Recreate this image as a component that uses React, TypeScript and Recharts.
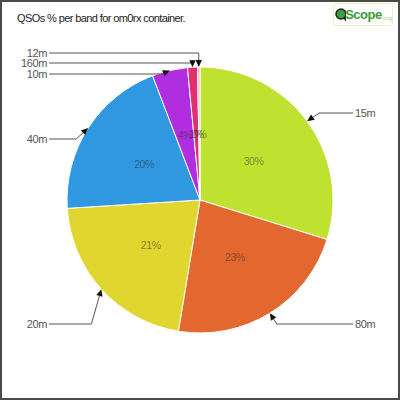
import React from 'react';
import { PieChart, Pie, Cell } from 'recharts';

const bands = ['15m', '80m', '20m', '40m', '10m', '160m', '12m'];
const shares = [29.8, 22.8, 21.4, 20.2, 4.3, 1.2, 0.3];
const bandColors = ['#bee22f', '#e2682f', '#e0d62f', '#3098e0', '#b02ee0', '#e0306e', '#f2b6cc'];
const titleText = 'QSOs % per band for om0rx container.';

const data = bands.map((b, i) => ({ name: b, value: shares[i] }));

const RAD = Math.PI / 180;
const LINE = '#555';
const FONT = '"Liberation Sans", sans-serif';

// label layout (offsets relative to centre / arrow tip)
const LAYOUT: Record<string, { dy: number; ex: number }> = {
  '15m': { dy: -87, ex: 12 },
  '80m': { dy: 124, ex: 7 },
  '20m': { dy: 124, ex: -10 },
  '40m': { dy: -61, ex: -12 },
  '10m': { dy: -126, ex: -8 },
  '160m': { dy: -137, ex: 0 },
  '12m': { dy: -147, ex: 0 },
};

function renderLabel(props: any) {
  const { cx, cy, midAngle, outerRadius, percent, name } = props;
  const c = Math.cos(-midAngle * RAD);
  const s = Math.sin(-midAngle * RAD);
  const tipX = cx + outerRadius * c;
  const tipY = cy + outerRadius * s;
  const ix = cx + outerRadius * 0.5 * c;
  const iy = cy + outerRadius * 0.5 * s;
  const lay = LAYOUT[name] || { dy: 0, ex: 0 };
  const right = tipX > cx;
  const ly = cy + lay.dy;
  const ex = tipX + lay.ex;
  const tx = right ? cx + 155 : cx - 153;
  const lineStart = right ? tx - 2 : tx + 2;
  const ddx = tipX - ex;
  const ddy = tipY - ly;
  const len = Math.sqrt(ddx * ddx + ddy * ddy) || 1;
  const ux = ddx / len;
  const uy = ddy / len;
  const hl = 7;
  const hw = 3.2;
  const bx = tipX - ux * hl;
  const by = tipY - uy * hl;
  const p1 = `${tipX},${tipY}`;
  const p2 = `${bx - uy * hw},${by + ux * hw}`;
  const p3 = `${bx + uy * hw},${by - ux * hw}`;
  return (
    <g>
      <text
        x={ix}
        y={iy}
        textAnchor="middle"
        dominantBaseline="central"
        fontFamily={FONT}
        fontSize={10.5}
        letterSpacing={-0.4}
        fill="rgba(40,40,40,0.5)"
      >
        {`${Math.round(percent * 100)}%`}
      </text>
      <polyline
        points={`${lineStart},${ly} ${ex},${ly} ${bx},${by}`}
        fill="none"
        stroke={LINE}
        strokeWidth={1}
      />
      <polygon points={`${p1} ${p2} ${p3}`} fill="#111" />
      <text
        x={tx}
        y={ly}
        textAnchor={right ? 'start' : 'end'}
        dominantBaseline="central"
        fontFamily={FONT}
        fontSize={11}
        letterSpacing={-0.4}
        fill="#555"
      >
        {name}
      </text>
    </g>
  );
}

export default function App() {
  return (
    <div
      style={{
        position: 'fixed',
        left: 0,
        top: 0,
        width: 400,
        height: 400,
        background: '#fff',
        boxSizing: 'border-box',
        border: '2px solid #4a4a4a',
        overflow: 'hidden',
      }}
    >
      <div
        style={{
          position: 'absolute',
          left: 15,
          top: 10,
          fontFamily: FONT,
          fontSize: 11,
          letterSpacing: -0.6,
          color: '#222',
          whiteSpace: 'nowrap',
        }}
      >
        {titleText}
      </div>
      <div
        style={{
          position: 'absolute',
          left: 331,
          top: 1,
          width: 58,
          height: 21,
          border: '1px solid #e8f0c8',
          borderRadius: 3,
          background: '#fff',
          display: 'flex',
          alignItems: 'center',
          fontFamily: FONT,
        }}
      >
        <svg width={14} height={16} style={{ marginLeft: 1 }}>
          <line x1={8} y1={9} x2={13} y2={15} stroke="#222" strokeWidth={2.5} />
          <circle cx={6} cy={7} r={5} fill="#3aa040" stroke="#222" strokeWidth={1.5} />
        </svg>
        <span style={{ color: '#3a9a35', fontWeight: 'bold', fontSize: 13, letterSpacing: -0.5, marginLeft: -1 }}>Scope</span>
        <span style={{ color: '#9fd08a', fontSize: 6, marginTop: 6 }}>.org</span>
      </div>
      <div style={{ position: 'absolute', left: -2, top: -2 }}>
        <PieChart width={400} height={400} margin={{ top: 0, right: 0, bottom: 0, left: 0 }}>
          <Pie
            data={data}
            dataKey="value"
            nameKey="name"
            cx={200}
            cy={200}
            outerRadius={133}
            startAngle={90}
            endAngle={-270}
            stroke="#fff"
            strokeWidth={1}
            label={renderLabel}
            labelLine={false}
            isAnimationActive={false}
          >
            {data.map((d, i) => (
              <Cell key={d.name} fill={bandColors[i]} />
            ))}
          </Pie>
        </PieChart>
      </div>
    </div>
  );
}
